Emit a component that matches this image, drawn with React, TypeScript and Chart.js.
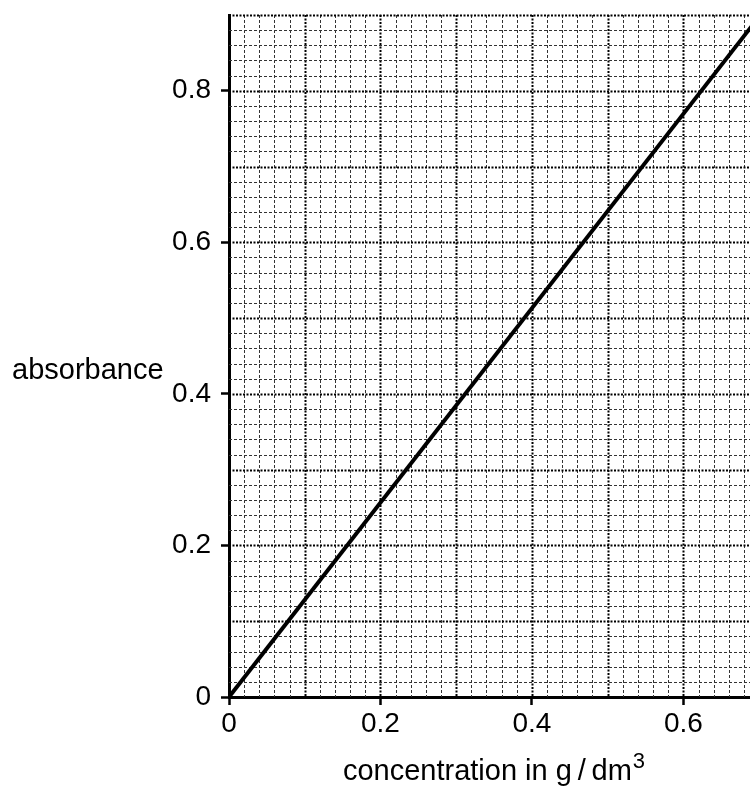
import React, { useEffect, useRef } from "react";
import { Chart, registerables } from "chart.js";

Chart.register(...registerables);

const concentration = [0, 0.69];
const absorbance = [0, 0.885];
const xTickValues = [0, 0.2, 0.4, 0.6];
const yTickValues = [0, 0.2, 0.4, 0.6, 0.8];
const xMax = 0.688;
const yMax = 0.9;
const gridStep = 0.02;
const xTitle = "concentration in g\u2009/\u2009dm";
const xTitleSup = "3";
const yTitle = "absorbance";

const FONT = "'Liberation Sans', Arial, Helvetica, sans-serif";
const FS = 28;
const TFS = 29;

const gridPlugin = {
  id: "paperGrid",
  beforeDatasetsDraw(chart: any) {
    const { ctx, chartArea } = chart;
    const xs = chart.scales.x;
    const ys = chart.scales.y;
    ctx.save();
    ctx.beginPath();
    ctx.rect(chartArea.left, chartArea.top - 2, chartArea.right - chartArea.left + 2, chartArea.bottom - chartArea.top + 2);
    ctx.clip();
    const drawLine = (x1: number, y1: number, x2: number, y2: number, major: boolean) => {
      ctx.beginPath();
      ctx.setLineDash(major ? [2, 1.5] : [3, 2]);
      ctx.lineWidth = major ? 2 : 1;
      ctx.strokeStyle = major ? "#000" : "#333";
      ctx.moveTo(x1, y1);
      ctx.lineTo(x2, y2);
      ctx.stroke();
    };
    const nx = Math.floor(xMax / gridStep + 1e-6);
    for (let i = 1; i <= nx; i++) {
      const px = Math.round(xs.getPixelForValue(i * gridStep)) + 0.5;
      drawLine(px, chartArea.top, px, chartArea.bottom, i % 5 === 0);
    }
    const ny = Math.floor(yMax / gridStep + 1e-6);
    for (let j = 1; j <= ny; j++) {
      const py = Math.round(ys.getPixelForValue(j * gridStep)) + 0.5;
      drawLine(chartArea.left, py, chartArea.right, py, j % 5 === 0);
    }
    ctx.restore();
  },
};

const titlePlugin = {
  id: "axisTitles",
  afterDraw(chart: any) {
    const { ctx, chartArea } = chart;
    ctx.save();
    ctx.fillStyle = "#000";
    ctx.textBaseline = "alphabetic";
    ctx.textAlign = "left";
    ctx.font = `${TFS}px ${FONT}`;
    ctx.fillText(yTitle, 12, 379);
    const mainW = ctx.measureText(xTitle).width;
    ctx.font = `${Math.round(TFS * 0.75)}px ${FONT}`;
    const supW = ctx.measureText(xTitleSup).width;
    const total = mainW + supW;
    const cx = (chartArea.left + chartArea.right) / 2 + 4;
    const x0 = cx - total / 2;
    ctx.font = `${TFS}px ${FONT}`;
    ctx.fillText(xTitle, x0, 780);
    ctx.font = `${Math.round(TFS * 0.75)}px ${FONT}`;
    ctx.fillText(xTitleSup, x0 + mainW + 1, 768);
    ctx.restore();
  },
};

export default function App() {
  const ref = useRef<HTMLCanvasElement | null>(null);
  useEffect(() => {
    if (!ref.current) return;
    const chart = new Chart(ref.current, {
      type: "line",
      data: {
        datasets: [
          {
            data: concentration.map((c, i) => ({ x: c, y: absorbance[i] })),
            borderColor: "#000",
            borderWidth: 4,
            pointRadius: 0,
            fill: false,
            tension: 0,
          },
        ],
      },
      options: {
        animation: false,
        responsive: false,
        events: [],
        layout: { padding: { top: 15, left: 0, right: 0, bottom: 0 } },
        plugins: { legend: { display: false }, tooltip: { enabled: false } },
        scales: {
          x: {
            type: "linear",
            min: 0,
            max: xMax,
            afterFit: (s: any) => {
              s.height = 93;
              s.paddingLeft = 0;
              s.paddingRight = 0;
            },
            afterBuildTicks: (s: any) => {
              s.ticks = xTickValues.map((v) => ({ value: v }));
            },
            ticks: {
              color: "#000",
              font: { family: FONT, size: FS },
              padding: 2,
              maxRotation: 0,
              autoSkip: false,
              callback: (v: any) => (Number(v) === 0 ? "0" : Number(v).toFixed(1)),
            },
            grid: {
              drawOnChartArea: false,
              drawTicks: true,
              tickLength: 8,
              tickWidth: 2.5,
              tickColor: "#000",
            },
            border: { display: true, color: "#000", width: 3 },
          },
          y: {
            type: "linear",
            min: 0,
            max: yMax,
            afterFit: (s: any) => {
              s.width = 229;
              s.paddingTop = 0;
              s.paddingBottom = 0;
            },
            afterBuildTicks: (s: any) => {
              s.ticks = yTickValues.map((v) => ({ value: v }));
            },
            ticks: {
              color: "#000",
              font: { family: FONT, size: FS },
              padding: 10,
              autoSkip: false,
              callback: (v: any) => (Number(v) === 0 ? "0" : Number(v).toFixed(1)),
            },
            grid: {
              drawOnChartArea: false,
              drawTicks: true,
              tickLength: 8,
              tickWidth: 2.5,
              tickColor: "#000",
            },
            border: { display: true, color: "#000", width: 3 },
          },
        },
      },
      plugins: [gridPlugin, titlePlugin],
    } as any);
    return () => chart.destroy();
  }, []);
  return (
    <div style={{ position: "absolute", left: 0, top: 0, width: 750, height: 790, background: "#fff" }}>
      <canvas ref={ref} width={750} height={790} style={{ display: "block" }} />
    </div>
  );
}
